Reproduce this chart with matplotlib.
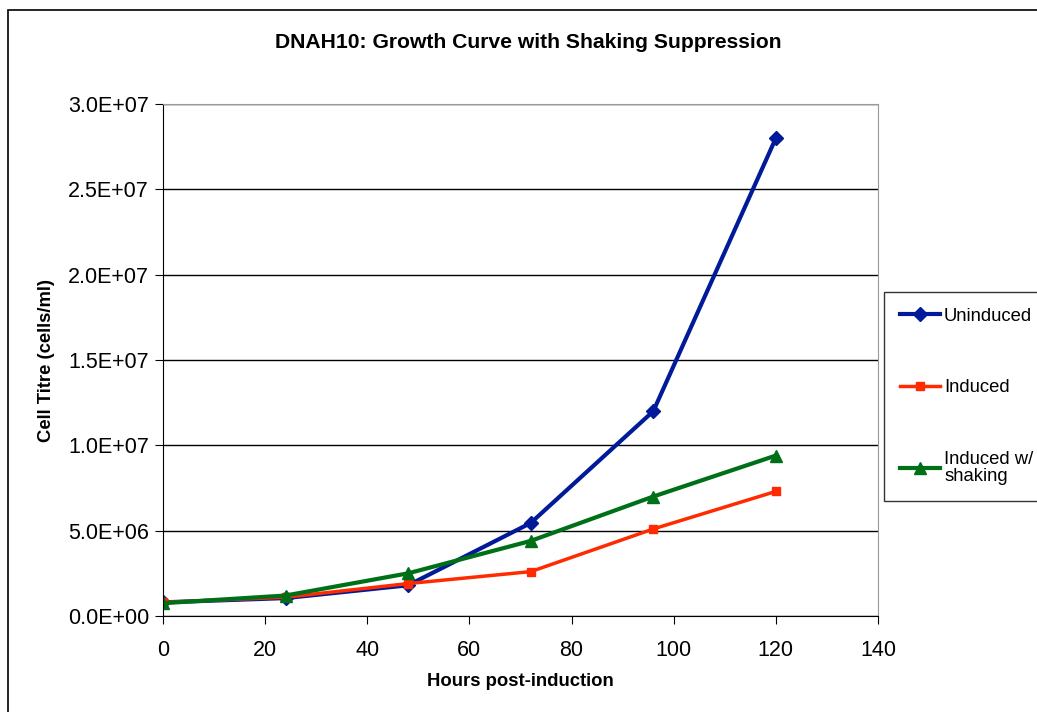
import matplotlib
matplotlib.use("Agg")
import matplotlib.pyplot as plt
from matplotlib.patches import Rectangle
from matplotlib.ticker import FuncFormatter

plt.rcParams['font.family'] = ['Liberation Sans', 'DejaVu Sans']

# hours post-induction
hours = [0, 24, 48, 72, 96, 120]
# cell titre (cells/ml)
uninduced = [8.0e5, 1.05e6, 1.8e6, 5.45e6, 1.2e7, 2.8e7]
induced = [8.0e5, 1.1e6, 1.9e6, 2.6e6, 5.1e6, 7.3e6]
induced_shaking = [7.5e5, 1.2e6, 2.5e6, 4.4e6, 7.0e6, 9.4e6]

fig = plt.figure(figsize=(10.37, 7.12), dpi=100)
ax = fig.add_axes([163/1037, 1 - 616/712, (878-163)/1037, (616-104)/712])

# outer chart border (right and bottom edges fall outside the image)
fig.patches.append(Rectangle((8/1037, -0.05), 1.1, 1.05 - 10/712, transform=fig.transFigure,
                             fill=False, edgecolor='black', linewidth=1.2))

ax.plot(hours, uninduced, color='#001a99', marker='D', markersize=7, linewidth=3, label='Uninduced')
ax.plot(hours, induced, color='#ff2a00', marker='s', markersize=6, linewidth=2.5, label='Induced')
ax.plot(hours, induced_shaking, color='#007018', marker='^', markersize=9, linewidth=3,
        label='Induced w/\nshaking')

ax.set_xlim(0, 140)
ax.set_ylim(0, 3.0e7)
ax.set_xticks(range(0, 141, 20))
ax.set_yticks([i * 5e6 for i in range(7)])
ax.yaxis.set_major_formatter(FuncFormatter(lambda v, p: ('%.1E' % v)))
ax.yaxis.grid(True, color='black', linewidth=1)
ax.set_axisbelow(True)
for s in ax.spines.values():
    s.set_color('#999999')
ax.spines['left'].set_color('black')
ax.spines['bottom'].set_color('black')
ax.tick_params(axis='both', direction='out', length=6, labelsize=15.5, color='black')
ax.tick_params(axis='x', pad=11)
ax.tick_params(axis='y', pad=4)

ax.set_xlabel('Hours post-induction', fontsize=13.3, fontweight='bold', labelpad=9)
ax.set_ylabel('Cell Titre (cells/ml)', fontsize=13.3, fontweight='bold', labelpad=9)
fig.text(528/1037, 1 - 42/712, 'DNAH10: Growth Curve with Shaking Suppression',
         ha='center', va='center', fontsize=15.2, fontweight='bold')

leg = fig.legend(loc='upper left', bbox_to_anchor=(884/1037, 1 - 292/712), fontsize=13.3,
                 frameon=True, fancybox=False, edgecolor='black', labelspacing=2.95,
                 handlelength=2.2, handletextpad=0.2, borderpad=0.85, borderaxespad=0)
leg.get_frame().set_linewidth(1)
leg.get_texts()[2].set_linespacing(1.05)

fig.savefig('out.png', dpi=100)
